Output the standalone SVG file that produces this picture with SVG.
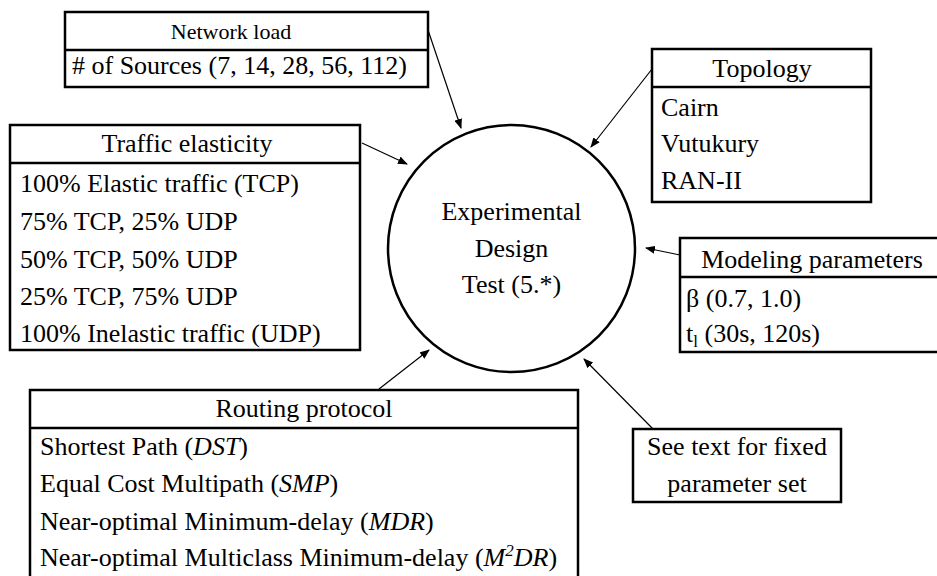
<svg xmlns="http://www.w3.org/2000/svg" width="937" height="576" viewBox="0 0 937 576">
<style>
.box{fill:#fff;stroke:#000;stroke-width:2.5}
.div{stroke:#000;stroke-width:2.5}
text{font-family:'Liberation Serif','Times New Roman',serif;font-size:26px;fill:#000}
.c{text-anchor:middle}
.h22{font-size:22px}
.conn{stroke:#000;stroke-width:1.2;fill:none;marker-end:url(#ah)}
</style>
<defs>
<marker id="ah" markerWidth="10" markerHeight="8" refX="9" refY="4" orient="auto" markerUnits="userSpaceOnUse">
<path d="M0,0 L10,4 L0,8 Z" fill="#000"/>
</marker>
</defs>
<rect width="937" height="576" fill="#fff"/>
<g id="connectors">
<line class="conn" x1="428" y1="30" x2="461" y2="128"/>
<line class="conn" x1="362" y1="143" x2="407" y2="164"/>
<line class="conn" x1="652" y1="69" x2="591" y2="147"/>
<line class="conn" x1="680" y1="255" x2="646" y2="248"/>
<line class="conn" x1="379" y1="389" x2="429" y2="350"/>
<line class="conn" x1="653" y1="429" x2="584" y2="359"/>
</g>
<g id="center">
<circle cx="511.5" cy="248.5" r="123.5" fill="#fff" stroke="#000" stroke-width="2.5"/>
<text class="c" x="511.5" y="220">Experimental</text>
<text class="c" x="511.5" y="257">Design</text>
<text class="c" x="511.5" y="293">Test (5.*)</text>
</g>
<g id="network-load">
<rect class="box" x="65" y="12" width="363" height="75"/>
<line class="div" x1="65" y1="50" x2="428" y2="50"/>
<text class="c h22" x="231" y="39">Network load</text>
<text x="72" y="74" font-size="27"># of Sources (7, 14, 28, 56, 112)</text>
</g>
<g id="traffic-elasticity">
<rect class="box" x="10" y="125" width="350" height="225"/>
<line class="div" x1="10" y1="163" x2="360" y2="163"/>
<text class="c" x="187" y="152">Traffic elasticity</text>
<text x="20" y="192">100% Elastic traffic (TCP)</text>
<text x="20" y="230">75% TCP, 25% UDP</text>
<text x="20" y="268">50% TCP, 50% UDP</text>
<text x="20" y="305">25% TCP, 75% UDP</text>
<text x="20" y="342">100% Inelastic traffic (UDP)</text>
</g>
<g id="topology">
<rect class="box" x="652" y="49" width="219" height="153"/>
<line class="div" x1="652" y1="87" x2="871" y2="87"/>
<text class="c" x="762" y="77">Topology</text>
<text x="661" y="116">Cairn</text>
<text x="661" y="152">Vutukury</text>
<text x="661" y="189">RAN-II</text>
</g>
<g id="modeling-parameters">
<rect class="box" x="680" y="238" width="280" height="114"/>
<line class="div" x1="680" y1="277" x2="960" y2="277"/>
<text class="c" x="812" y="268" font-size="26.5">Modeling parameters</text>
<text x="686" y="307">β (0.7, 1.0)</text>
<text x="686" y="342">t<tspan font-size="17" dy="5">l</tspan><tspan dy="-5"> (30s, 120s)</tspan></text>
</g>
<g id="routing-protocol">
<rect class="box" x="30" y="390" width="548" height="200"/>
<line class="div" x1="30" y1="428" x2="578" y2="428"/>
<text class="c" x="304" y="417">Routing protocol</text>
<text x="40" y="455">Shortest Path (<tspan font-style="italic">DST</tspan>)</text>
<text x="40" y="492">Equal Cost Multipath (<tspan font-style="italic">SMP</tspan>)</text>
<text x="40" y="530">Near-optimal Minimum-delay (<tspan font-style="italic">MDR</tspan>)</text>
<text x="40" y="566">Near-optimal Multiclass Minimum-delay (<tspan font-style="italic">M</tspan><tspan font-style="italic" font-size="17" dy="-10">2</tspan><tspan font-style="italic" dy="10">DR</tspan>)</text>
</g>
<g id="fixed-parameters">
<rect class="box" x="633" y="429" width="208" height="73"/>
<text class="c" x="737" y="455">See text for fixed</text>
<text class="c" x="737" y="492">parameter set</text>
</g>
</svg>
